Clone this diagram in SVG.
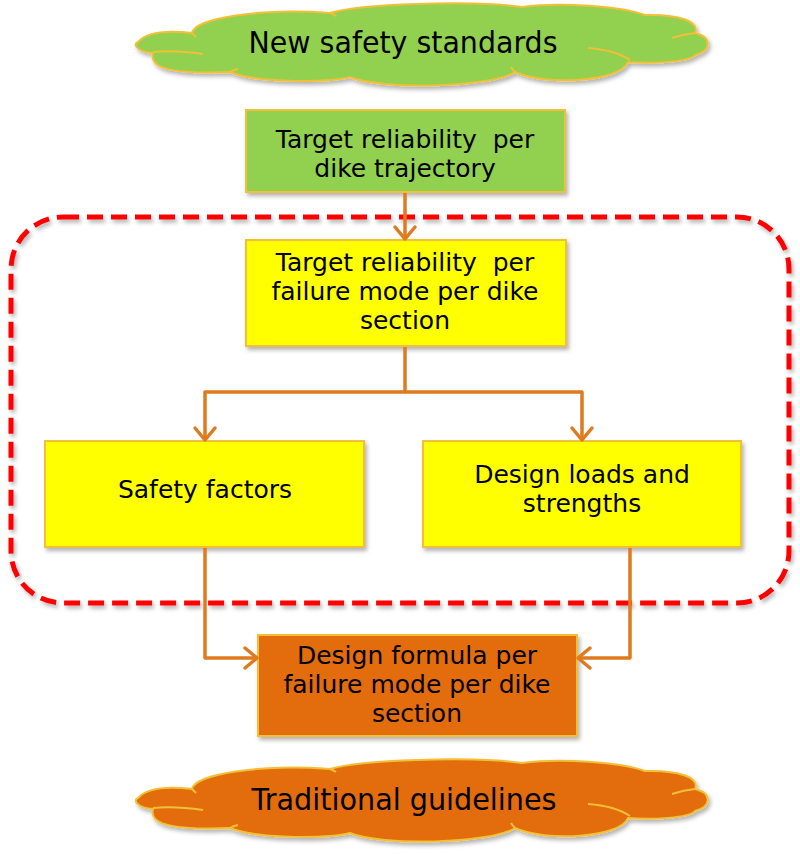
<svg xmlns="http://www.w3.org/2000/svg" width="800" height="854" viewBox="0 0 800 854">
<defs>
<filter id="sh" x="-10%" y="-10%" width="120%" height="130%">
<feDropShadow dx="2" dy="3" stdDeviation="2" flood-color="#000" flood-opacity="0.3"/>
</filter>
<marker id="arr" markerUnits="userSpaceOnUse" markerWidth="20" markerHeight="26" viewBox="-2 -2 18 26" refX="13" refY="10" orient="auto" overflow="visible">
<path d="M1,0 L13,10 L1,20" fill="none" stroke="#df7a1f" stroke-width="3.5" stroke-linecap="round" stroke-linejoin="round"/>
</marker>
<path id="cloudShape" d="M138,42 Q150,28 192,33 C195,18 260,8 330,13 C360,4 470,0 522,7 C560,2 620,6 645,15 C680,14 700,22 695,33 C712,37 712,50 695,55 C690,62 650,64 628,62 C620,82 545,86 515,72 C490,88 380,90 350,77 C330,82 260,84 230,72 C180,74 148,70 153,53 C138,52 132,44 138,42 Z"/>
<path id="cloudInner" d="M153,52 Q175,50 203,54 M192,33 Q194,35 196,37 M330,13 Q333,14 336,16 M672,38 Q684,34 695,33 M588,48 Q615,50 630,60 M515,72 Q513,70 511,67 M230,72 Q233,70 238,69"/>
</defs>
<style>
.box{stroke:#f2c037;stroke-width:2;filter:url(#sh)}
.cloud{stroke:#f2c037;stroke-width:2;filter:url(#sh)}
.inner{fill:none;stroke:#f2c037;stroke-width:2}
.t{font-family:"DejaVu Sans","Liberation Sans",sans-serif;font-size:25px;fill:#000;text-anchor:middle;white-space:pre}
.ct{font-family:"DejaVu Sans","Liberation Sans",sans-serif;font-size:30px;fill:#000;text-anchor:middle}
.con{fill:none;stroke:#df7a1f;stroke-width:3.5;stroke-linejoin:round}
</style>
<rect x="11" y="217" width="778" height="386" rx="52" ry="52" fill="none" stroke="#ff0000" stroke-width="5" stroke-dasharray="16 8" filter="url(#sh)"/>
<g id="cloud-new">
<use href="#cloudShape" class="cloud" fill="#92d050"/>
<use href="#cloudInner" class="inner"/>
<text class="ct" x="403" y="53" textLength="309" lengthAdjust="spacingAndGlyphs">New safety standards</text>
</g>
<g id="n-target-traj">
<rect class="box" x="246" y="110" width="319" height="82" fill="#92d050"/>
<text class="t" x="405" y="148" xml:space="preserve">Target reliability  per</text>
<text class="t" x="405" y="177">dike trajectory</text>
</g>
<g id="n-target-mode">
<rect class="box" x="246" y="240" width="320" height="106" fill="#ffff00"/>
<text class="t" x="405" y="271" xml:space="preserve">Target reliability  per</text>
<text class="t" x="405" y="300">failure mode per dike</text>
<text class="t" x="405" y="329">section</text>
</g>
<g id="n-safety">
<rect class="box" x="45" y="441" width="319" height="106" fill="#ffff00"/>
<text class="t" x="205" y="498">Safety factors</text>
</g>
<g id="n-loads">
<rect class="box" x="423" y="441" width="318" height="106" fill="#ffff00"/>
<text class="t" x="582" y="483">Design loads and</text>
<text class="t" x="582" y="512">strengths</text>
</g>
<g id="n-formula">
<rect class="box" x="258" y="635" width="319" height="101" fill="#e36c09"/>
<text class="t" x="417" y="664">Design formula per</text>
<text class="t" x="417" y="693">failure mode per dike</text>
<text class="t" x="417" y="722">section</text>
</g>
<g id="cloud-trad">
<g transform="translate(0,756)">
<use href="#cloudShape" class="cloud" fill="#e36c09"/>
<use href="#cloudInner" class="inner"/>
</g>
<text class="ct" x="404" y="810" textLength="305" lengthAdjust="spacingAndGlyphs">Traditional guidelines</text>
</g>
<g id="connectors">
<path class="con" d="M405,193 V239" marker-end="url(#arr)"/>
<path class="con" d="M405,347 V392 H205 V440" marker-end="url(#arr)"/>
<path class="con" d="M405,392 H582 V440" marker-end="url(#arr)"/>
<path class="con" d="M205,548 V658 H257" marker-end="url(#arr)"/>
<path class="con" d="M630,548 V658 H578" marker-end="url(#arr)"/>
</g>
</svg>
